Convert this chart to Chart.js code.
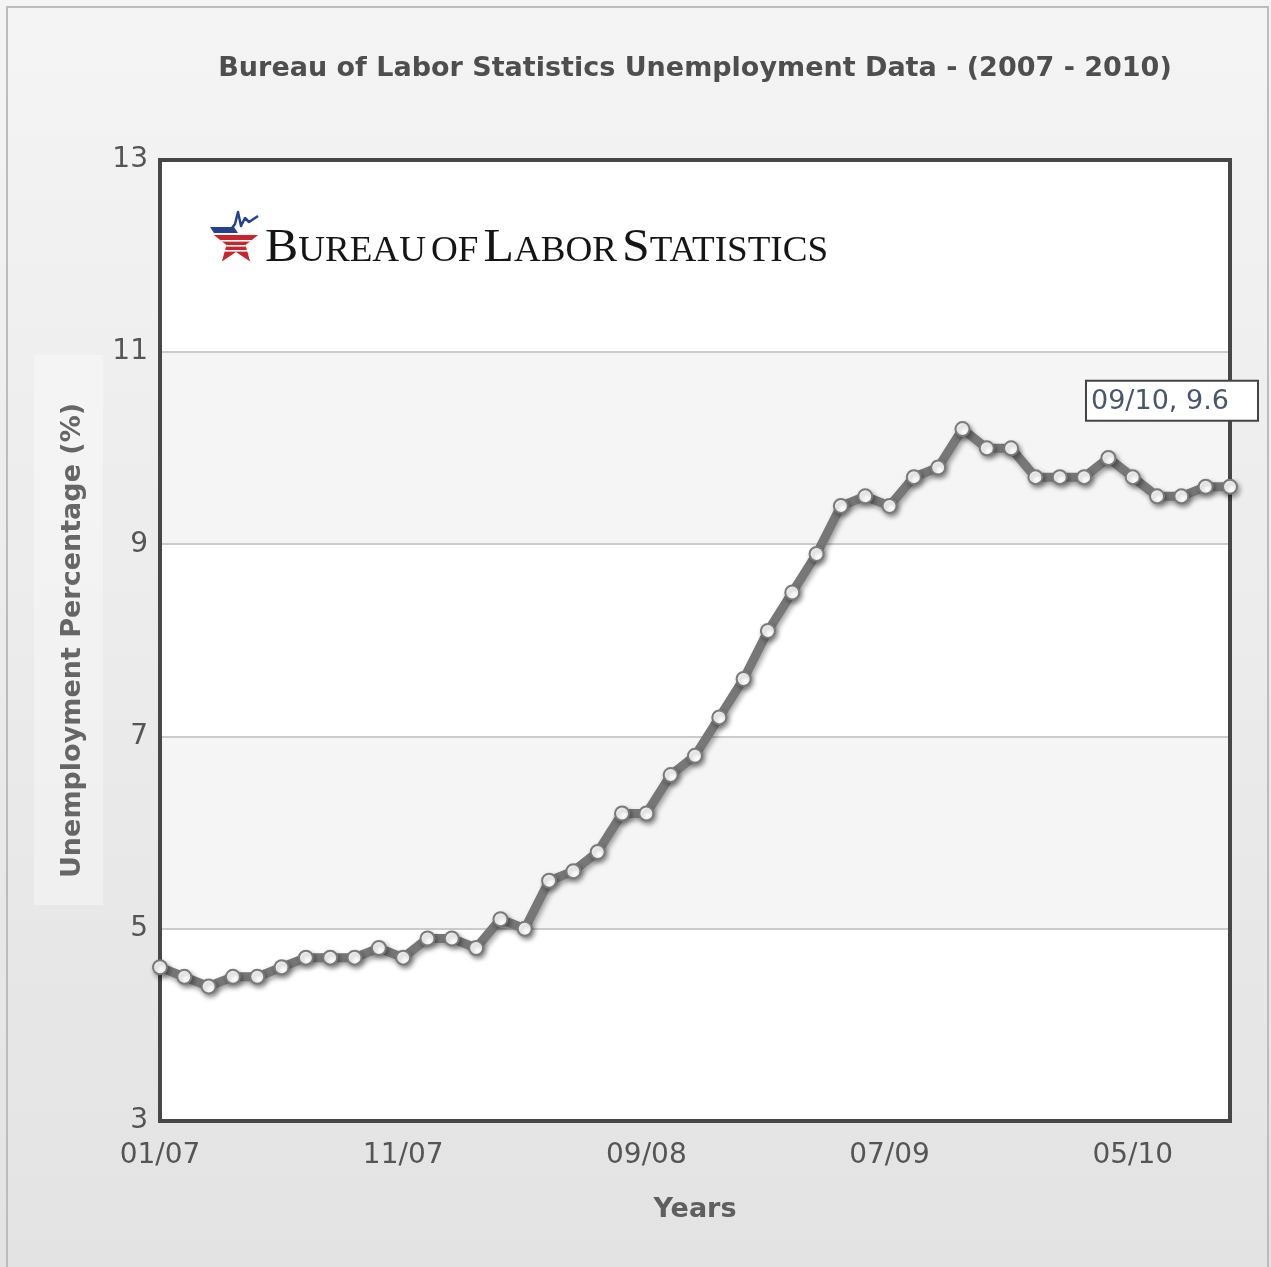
<!DOCTYPE html>
<html>
<head>
<meta charset="utf-8">
<script src="https://cdn.jsdelivr.net/npm/chart.js@4.4.1/dist/chart.umd.min.js"></script>
<style>
html, body { margin: 0; padding: 0; background: #fff; }
#wrap { position: relative; width: 1271px; height: 1267px; }
</style>
</head>
<body>
<div id="wrap"><canvas id="blsChart" width="1271" height="1267"></canvas></div>
<script>
const chartTitle = 'Bureau of Labor Statistics Unemployment Data - (2007 - 2010)';

const months = [
    '01/07', '02/07', '03/07', '04/07', '05/07', '06/07', '07/07', '08/07', '09/07', '10/07', '11/07', '12/07',
    '01/08', '02/08', '03/08', '04/08', '05/08', '06/08', '07/08', '08/08', '09/08', '10/08', '11/08', '12/08',
    '01/09', '02/09', '03/09', '04/09', '05/09', '06/09', '07/09', '08/09', '09/09', '10/09', '11/09', '12/09',
    '01/10', '02/10', '03/10', '04/10', '05/10', '06/10', '07/10', '08/10', '09/10'
];

const rates = [
    4.6, 4.5, 4.4, 4.5, 4.5, 4.6, 4.7, 4.7, 4.7, 4.8, 4.7, 4.9,
    4.9, 4.8, 5.1, 5.0, 5.5, 5.6, 5.8, 6.2, 6.2, 6.6, 6.8, 7.2,
    7.6, 8.1, 8.5, 8.9, 9.4, 9.5, 9.4, 9.7, 9.8, 10.2, 10.0, 10.0,
    9.7, 9.7, 9.7, 9.9, 9.7, 9.5, 9.5, 9.6, 9.6
];

const shownMonths = ['01/07', '11/07', '09/08', '07/09', '05/10'];
const yTicks = [3, 5, 7, 9, 11, 13];

const FONT = '"DejaVu Sans", Verdana, sans-serif';

function drawLogo(ctx, x, base) {
    // red lower star (top point replaced by the blue part)
    const cx = x + 26, cy = base - 19, ro = 24, ri = 10;
    ctx.save();
    ctx.beginPath();
    for (let i = 0; i < 10; i++) {
        const r = i % 2 === 0 ? ro : ri;
        const ang = -Math.PI / 2 + i * Math.PI / 5;
        const px = cx + r * Math.cos(ang), py = cy + r * Math.sin(ang);
        if (i === 0) ctx.moveTo(px, py); else ctx.lineTo(px, py);
    }
    ctx.closePath();
    ctx.clip();
    ctx.fillStyle = '#c8252d';
    ctx.fillRect(cx - ro, cy - 7, ro * 2, ro + 8);
    ctx.fillStyle = '#ffffff';
    [cy - 2, cy + 3, cy + 8].forEach(yy => ctx.fillRect(cx - ro, yy, ro * 2, 1.6));
    ctx.restore();

    // blue band and rising line
    ctx.save();
    ctx.fillStyle = '#24408f';
    ctx.beginPath();
    ctx.moveTo(cx - 26, cy - 15);
    ctx.lineTo(cx - 2, cy - 15);
    ctx.lineTo(cx + 2, cy - 9);
    ctx.lineTo(cx - 22, cy - 9);
    ctx.closePath();
    ctx.fill();
    ctx.strokeStyle = '#24408f';
    ctx.lineWidth = 2.5;
    ctx.lineJoin = 'round';
    ctx.beginPath();
    ctx.moveTo(cx - 4, cy - 14);
    ctx.lineTo(cx - 1, cy - 18);
    ctx.lineTo(cx + 2, cy - 30);
    ctx.lineTo(cx + 5, cy - 16);
    ctx.lineTo(cx + 9, cy - 24);
    ctx.lineTo(cx + 13, cy - 20);
    ctx.lineTo(cx + 22, cy - 26);
    ctx.stroke();
    ctx.restore();

    // small caps wordmark
    const parts = [
        ['B', 1], ['UREAU', 0], [' ', 0], ['OF', 0], [' ', 0], ['L', 1], ['ABOR', 0], [' ', 0], ['S', 1], ['TATISTICS', 0]
    ];
    const big = '47px "Liberation Serif", "Times New Roman", serif';
    const small = '35px "Liberation Serif", "Times New Roman", serif';
    let total = 0;
    parts.forEach(p => { ctx.font = p[1] ? big : small; total += ctx.measureText(p[0]).width * (p[0] === ' ' ? 0.55 : 1); });
    const tx = x + 55, targetW = 563;
    ctx.save();
    ctx.translate(tx, base);
    ctx.scale(targetW / total, 1);
    ctx.fillStyle = '#151515';
    ctx.textBaseline = 'alphabetic';
    ctx.textAlign = 'left';
    let cur = 0;
    parts.forEach(p => {
        ctx.font = p[1] ? big : small;
        if (p[0] !== ' ') ctx.fillText(p[0], cur, 0);
        cur += ctx.measureText(p[0]).width * (p[0] === ' ' ? 0.55 : 1);
    });
    ctx.restore();
}

const panelPlugin = {
    id: 'panel',
    beforeDraw(chart) {
        const { ctx, chartArea: a, scales: { y } } = chart;
        ctx.save();
        const g = ctx.createLinearGradient(0, 0, 0, chart.height);
        g.addColorStop(0, '#f4f4f4');
        g.addColorStop(1, '#e3e3e3');
        ctx.fillStyle = g;
        ctx.fillRect(0, 0, chart.width, chart.height);

        ctx.strokeStyle = '#bcbcbc';
        ctx.lineWidth = 2;
        ctx.beginPath();
        ctx.moveTo(7, chart.height);
        ctx.lineTo(7, 7);
        ctx.lineTo(1268, 7);
        ctx.lineTo(1268, chart.height);
        ctx.stroke();

        // box behind the y title
        ctx.fillStyle = 'rgba(255,255,255,0.35)';
        ctx.fillRect(34, 355, 69, 550);

        // alternate bands
        for (let i = 0; i < yTicks.length - 1; i++) {
            const top = y.getPixelForValue(yTicks[i + 1]);
            const bot = y.getPixelForValue(yTicks[i]);
            ctx.fillStyle = i % 2 === 0 ? '#ffffff' : '#f5f5f5';
            ctx.fillRect(a.left, top, a.right - a.left, bot - top);
        }

        ctx.fillStyle = '#4e4e4e';
        ctx.font = 'bold 27px ' + FONT;
        ctx.textAlign = 'center';
        ctx.textBaseline = 'middle';
        ctx.fillText(chartTitle, (a.left + a.right) / 2, 69);
        ctx.restore();
    },
    beforeDatasetsDraw(chart) {
        const { ctx, chartArea: a } = chart;
        ctx.save();
        ctx.strokeStyle = '#474747';
        ctx.lineWidth = 4;
        ctx.strokeRect(a.left, a.top, a.right - a.left, a.bottom - a.top);
        drawLogo(ctx, a.left + 50, a.top + 101);
        ctx.restore();

        ctx.save();
        ctx.shadowColor = 'rgba(0,0,0,0.35)';
        ctx.shadowBlur = 5;
        ctx.shadowOffsetX = 2;
        ctx.shadowOffsetY = 3;
    },
    afterDatasetsDraw(chart) {
        chart.ctx.restore();
    },
    afterDraw(chart) {
        const { ctx } = chart;
        const meta = chart.getDatasetMeta(0);
        const idx = meta.data.length - 1;
        const pt = meta.data[idx];
        const text = months[idx] + ', ' + rates[idx];
        const bx = pt.x - 144, by = pt.y - 106, bw = 172, bh = 40;
        ctx.save();
        ctx.fillStyle = '#ffffff';
        ctx.fillRect(bx, by, bw, bh);
        ctx.strokeStyle = '#444444';
        ctx.lineWidth = 2;
        ctx.strokeRect(bx, by, bw, bh);
        ctx.fillStyle = '#4a566c';
        ctx.font = '27px ' + FONT;
        ctx.textAlign = 'left';
        ctx.textBaseline = 'middle';
        ctx.fillText(text, bx + 5, by + bh / 2 + 1);
        ctx.restore();
    }
};

new Chart(document.getElementById('blsChart'), {
    type: 'line',
    data: {
        labels: months,
        datasets: [{
            label: 'Unemployment',
            data: rates,
            borderColor: '#777777',
            borderWidth: 9,
            tension: 0,
            clip: false,
            pointRadius: 7,
            pointBorderWidth: 2,
            pointBackgroundColor: '#ffffff',
            pointBorderColor: '#7a7a7a'
        }]
    },
    options: {
        responsive: false,
        animation: false,
        devicePixelRatio: 1,
        layout: { padding: { top: 160, right: 41, left: 0, bottom: 0 } },
        plugins: {
            legend: { display: false },
            title: { display: false },
            tooltip: { enabled: false }
        },
        scales: {
            x: {
                type: 'category',
                offset: false,
                grid: { display: false, drawTicks: false },
                border: { display: false },
                ticks: {
                    autoSkip: false,
                    maxRotation: 0,
                    padding: 18,
                    color: '#555555',
                    font: { family: FONT, size: 28 },
                    callback: function (v, i) {
                        return shownMonths.includes(months[i]) ? months[i] : '';
                    }
                },
                title: {
                    display: true,
                    text: 'Years',
                    color: '#5f5f5f',
                    font: { family: FONT, size: 27, weight: 'bold' },
                    padding: { top: 0, bottom: 41 }
                },
                afterFit: function (s) { s.height = 146; }
            },
            y: {
                min: 3,
                max: 13,
                afterBuildTicks: function (s) { s.ticks = yTicks.map(v => ({ value: v })); },
                grid: { color: '#cbcbcb', lineWidth: 2, drawTicks: false },
                border: { display: false },
                ticks: {
                    padding: 12,
                    color: '#555555',
                    font: { family: FONT, size: 28 }
                },
                title: {
                    display: true,
                    text: 'Unemployment Percentage (%)',
                    color: '#666666',
                    font: { family: FONT, size: 27, weight: 'bold' },
                    padding: { top: 57, bottom: 0 }
                },
                afterFit: function (s) { s.width = 160; }
            }
        }
    },
    plugins: [panelPlugin]
});
</script>
</body>
</html>
